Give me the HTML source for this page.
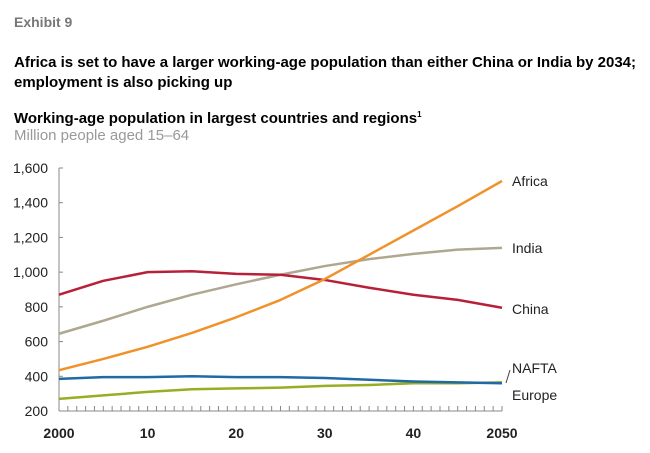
<!DOCTYPE html>
<html><head><meta charset="utf-8"><style>
body{margin:0;background:#fff;width:650px;height:448px;overflow:hidden;font-family:"Liberation Sans",sans-serif}
svg text{font-family:"Liberation Sans",sans-serif}
</style></head><body>
<svg width="650" height="448">
<text x="14" y="27" font-size="14" font-weight="bold" fill="#777">Exhibit 9</text>
<text x="14" y="67" font-size="15" font-weight="bold" fill="#000" textLength="622">Africa is set to have a larger working-age population than either China or India by 2034;</text>
<text x="14" y="87" font-size="15" font-weight="bold" fill="#000">employment is also picking up</text>
<text x="14" y="123" font-size="15" font-weight="bold" fill="#000">Working-age population in largest countries and regions<tspan font-size="8" dy="-6">1</tspan></text>
<text x="14" y="140" font-size="15" fill="#999">Million people aged 15–64</text>
<g id="plot"></g>
</svg>
<script>
const years=[2000,2005,2010,2015,2020,2025,2030,2035,2040,2045,2050];
const africa=[435,500,570,650,740,840,960,1100,1240,1380,1525];
const india=[645,720,800,870,930,985,1035,1075,1105,1130,1140];
const china=[870,950,1000,1005,990,985,955,910,870,840,795];
const nafta=[385,395,395,400,395,395,390,380,370,365,360];
const europe=[270,290,310,325,330,335,345,350,360,360,365];
const yTicks=[200,400,600,800,1000,1200,1400,1600];
const xTicks=[2000,2010,2020,2030,2040,2050];
const xTickLabels=["2000","10","20","30","40","2050"];
const NS="http://www.w3.org/2000/svg";
const g=document.getElementById('plot');
const X0=59,X1=502,Y0=411,Y1=168;
const xs=v=>X0+(v-2000)/50*(X1-X0);
const ys=v=>Y0-(v-200)/1400*(Y0-Y1);
function mk(t,a){const e=document.createElementNS(NS,t);for(const k in a)e.setAttribute(k,a[k]);g.appendChild(e);return e;}
let e=mk('line',{x1:X0,y1:Y1,x2:X0,y2:Y0,stroke:'#888'});


e=mk('line',{x1:X0,y1:Y0,x2:X1,y2:Y0,stroke:'#888'});


yTicks.forEach(v=>{
 let t=mk('line',{x1:X0,x2:X0+4,y1:ys(v),y2:ys(v),stroke:'#888'});
 
 
 let l=mk('text',{x:48,y:ys(v)+5,'font-size':14,'text-anchor':'end',fill:'#222'});
 l.textContent=v.toLocaleString('en-US');
 
 
});
for(let y=2000;y<=2050;y++){
 let t=mk('line',{x1:xs(y),x2:xs(y),y1:Y0,y2:Y0-5,stroke:'#888'});
 
 
}
xTicks.forEach((v,i)=>{
 let l=mk('text',{x:xs(v),y:438,'font-size':14,'font-weight':'bold','text-anchor':'middle',fill:'#222'});
 l.textContent=xTickLabels[i];
 
 
});
const series=[["europe",europe,"#9aac24"],["nafta",nafta,"#1f6aa5"],["india",india,"#b0a790"],["china",china,"#b8203a"],["africa",africa,"#f0922a"]];
series.forEach(([n,d,c])=>{
 let p=mk('polyline',{points:d.map((v,i)=>xs(years[i])+','+ys(v)).join(' '),fill:'none',stroke:c,'stroke-width':2.5,'stroke-linejoin':'round'});
 
 
});
const labels=[["Africa",186],["India",253],["China",314],["NAFTA",373],["Europe",400]];
labels.forEach(([t,y])=>{
 let l=mk('text',{x:512,y:y,'font-size':14,fill:'#222'});
 l.textContent=t;
 
 
});
e=mk('line',{x1:506,y1:383,x2:510,y2:370,stroke:'#444'});


</script>
</body></html>
